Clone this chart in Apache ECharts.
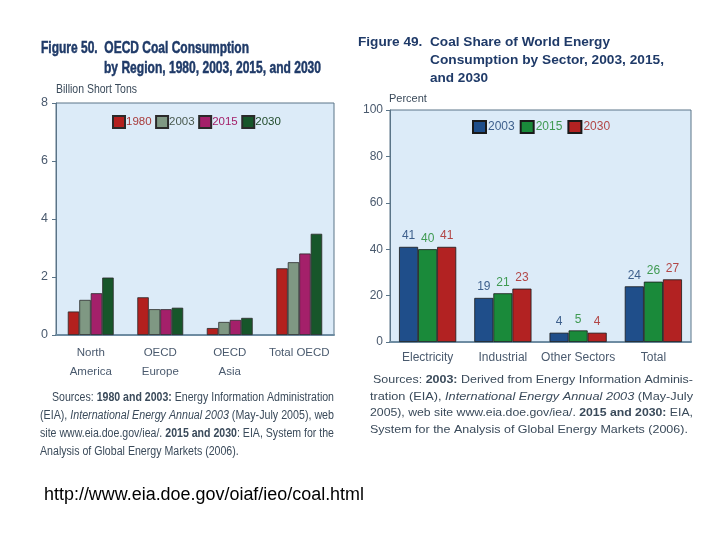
<!DOCTYPE html>
<html>
<head>
<meta charset="utf-8">
<script src="https://cdn.jsdelivr.net/npm/echarts@6/dist/echarts.min.js"></script>
<style>html,body{margin:0;padding:0;background:#fff;}#c{width:720px;height:540px;}</style>
</head>
<body>
<div id="c"></div>
<script>
// ---- Left chart data (Figure 50) ----
const leftCategories = ['North\nAmerica', 'OECD\nEurope', 'OECD\nAsia', 'Total OECD'];
const leftYears = ['1980', '2003', '2015', '2030'];
const left1980 = [0.81, 1.30, 0.24, 2.30];
const left2003 = [1.21, 0.89, 0.45, 2.51];
const left2015 = [1.44, 0.89, 0.52, 2.81];
const left2030 = [1.98, 0.94, 0.59, 3.49];
const leftTicks = { min: 0, max: 8, interval: 2 };

// ---- Right chart data (Figure 49) ----
const rightCategories = ['Electricity', 'Industrial', 'Other Sectors', 'Total'];
const rightYears = ['2003', '2015', '2030'];
const right2003 = [41, 19, 4, 24];
const right2015 = [40, 21, 5, 26];
const right2030 = [41, 23, 4, 27];
const rightTicks = { min: 0, max: 100, interval: 20 };

const SANS = '"Liberation Sans",Arial,sans-serif';

const leftColors = ['#b3201e', '#7f9883', '#a4206a', '#17562a'];
const leftTextColors = ['#a83a3a', '#4a5a50', '#a4206a', '#1f4a2a'];
const rightColors = ['#1f4e8a', '#1a8a3a', '#b22222'];
const rightLabelColors = ['#3d5f8c', '#3f9a52', '#b24646'];

const leftValues = [left1980, left2003, left2015, left2030];
const rightValues = [right2003, right2015, right2030];

const series = [];
leftYears.forEach((y, i) => {
  series.push({
    name: 'L' + y, type: 'bar', xAxisIndex: 0, yAxisIndex: 0,
    data: leftValues[i], barGap: '0%', barCategoryGap: '34%',
    itemStyle: { color: leftColors[i], borderColor: '#2a2a2a', borderWidth: 0.8 }
  });
});
rightYears.forEach((y, i) => {
  series.push({
    name: 'R' + y, type: 'bar', xAxisIndex: 1, yAxisIndex: 1,
    data: rightValues[i], barGap: '0%', barCategoryGap: '24%',
    itemStyle: { color: rightColors[i], borderColor: '#1a1a1a', borderWidth: 0.8 },
    label: { show: true, position: 'top', distance: 5, color: rightLabelColors[i], fontSize: 12, fontFamily: SANS }
  });
});

// text measuring helper to fit condensed/justified text widths
const mctx = document.createElement('canvas').getContext('2d');
function fontFor(st, size) {
  return (st === 'b' ? 'bold ' : st === 'i' ? 'italic ' : '') + size + 'px ' + SANS;
}
function measureRich(t, size) {
  let w = 0; const re = /\{(\w)\|([^}]*)\}/g; let m;
  while ((m = re.exec(t))) { mctx.font = fontFor(m[1], size); w += mctx.measureText(m[2]).width; }
  return w;
}
function fittedText(x, y, text, size, weight, color, targetW, stroke) {
  const font = (weight ? weight + ' ' : '') + size + 'px ' + SANS;
  mctx.font = font;
  const s = targetW ? targetW / mctx.measureText(text).width : 1;
  const st = { text: text, font: font, fill: color, verticalAlign: 'middle' };
  if (stroke) { st.stroke = color; st.lineWidth = stroke; }
  return { type: 'text', x: x, y: y, scaleX: s, style: st };
}
function richBlock(lines, size, color, boldColor) {
  // lines: [x, y, text, targetWidth or null]
  const scales = lines.map(l => l[3] ? l[3] / measureRich(l[2], size) : null);
  const known = scales.filter(s => s);
  const avg = known.reduce((a, b) => a + b, 0) / known.length;
  return lines.map((l, k) => ({
    type: 'text', x: l[0], y: l[1], scaleX: scales[k] || avg,
    style: {
      text: l[2], fill: color, font: size + 'px ' + SANS, verticalAlign: 'middle',
      rich: {
        n: { fontSize: size, fontFamily: SANS, color: color },
        b: { fontSize: size, fontFamily: SANS, fontWeight: 'bold', color: boldColor },
        i: { fontSize: size, fontFamily: SANS, fontStyle: 'italic', color: color }
      }
    }
  }));
}

const titleColor = '#1f3a68';
const graphics = [
  fittedText(41, 48, 'Figure 50.  OECD Coal Consumption', 17, 'bold', titleColor, 208, 0.5),
  fittedText(104, 68, 'by Region, 1980, 2003, 2015, and 2030', 17, 'bold', titleColor, 217, 0.5),
  fittedText(56, 90, 'Billion Short Tons', 12.5, '', '#3a4a5a', 81),
  fittedText(358, 42, 'Figure 49.  Coal Share of World Energy', 13, 'bold', titleColor, 252),
  fittedText(430, 60, 'Consumption by Sector, 2003, 2015,', 13, 'bold', titleColor, 234),
  fittedText(430, 78, 'and 2030', 13, 'bold', titleColor, 58),
  fittedText(389, 99, 'Percent', 11, '', '#3a4a5a', null),
  fittedText(44, 495, 'http://www.eia.doe.gov/oiaf/ieo/coal.html', 18, '', '#000', 320)
].concat(
  richBlock([
    [52, 398, '{n|Sources: }{b|1980 and 2003:}{n| Energy Information Administration}', 282],
    [40, 416, '{n|(EIA), }{i|International Energy Annual 2003}{n| (May-July 2005), web}', 294],
    [40, 434, '{n|site www.eia.doe.gov/iea/. }{b|2015 and 2030}{n|: EIA, System for the}', 294],
    [40, 452, '{n|Analysis of Global Energy Markets (2006).}', null]
  ], 12.5, '#3a4a5a', '#2a3646'),
  richBlock([
    [373, 380, '{n|Sources: }{b|2003:}{n| Derived from Energy Information Adminis-}', 320],
    [370, 397, '{n|tration (EIA), }{i|International Energy Annual 2003}{n| (May-July}', 323],
    [370, 413, '{n|2005), web site www.eia.doe.gov/iea/. }{b|2015 and 2030:}{n| EIA,}', 323],
    [370, 430, '{n|System for the Analysis of Global Energy Markets (2006).}', null]
  ], 11.5, '#3a4a5a', '#2a3646')
);

const axisColor = '#5a7488';
const labelColor = '#4a5a6e';

const option = {
  animation: false,
  backgroundColor: '#ffffff',
  grid: [
    { left: 56, top: 103, width: 278, height: 232, show: true, backgroundColor: '#dcebf8', borderColor: axisColor, borderWidth: 1 },
    { left: 390, top: 110, width: 301, height: 232, show: true, backgroundColor: '#dcebf8', borderColor: axisColor, borderWidth: 1 }
  ],
  legend: [
    {
      left: 112, top: 115, padding: 0, itemWidth: 12, itemHeight: 12, itemGap: 3.5, icon: 'rect',
      data: leftYears.map((y, i) => ({ name: 'L' + y, textStyle: { color: leftTextColors[i] } })),
      formatter: n => n.slice(1),
      textStyle: { fontSize: 11.5, fontFamily: SANS, padding: [0, 0, 0, -4] }
    },
    {
      left: 472, top: 120, padding: 0, itemWidth: 13, itemHeight: 12, itemGap: 5, icon: 'rect',
      data: rightYears.map((y, i) => ({ name: 'R' + y, textStyle: { color: rightLabelColors[i] } })),
      formatter: n => n.slice(1),
      textStyle: { fontSize: 12, fontFamily: SANS, padding: [0, 0, 0, -3] }
    }
  ],
  xAxis: [
    {
      gridIndex: 0, type: 'category', data: leftCategories,
      axisLine: { lineStyle: { color: '#6e8ca2', width: 2 } }, axisTick: { show: false },
      axisLabel: { interval: 0, color: labelColor, fontSize: 11.5, fontFamily: SANS, lineHeight: 19, margin: 8 }
    },
    {
      gridIndex: 1, type: 'category', data: rightCategories,
      axisLine: { lineStyle: { color: '#6e8ca2', width: 2 } }, axisTick: { show: false },
      axisLabel: { interval: 0, color: labelColor, fontSize: 12, fontFamily: SANS, margin: 10 }
    }
  ],
  yAxis: [
    {
      gridIndex: 0, type: 'value', min: leftTicks.min, max: leftTicks.max, interval: leftTicks.interval,
      axisLine: { show: true, lineStyle: { color: axisColor } },
      axisTick: { show: true, length: 4, lineStyle: { color: axisColor } },
      axisLabel: { color: labelColor, fontSize: 12.5, fontFamily: SANS, margin: 8 },
      splitLine: { show: false }
    },
    {
      gridIndex: 1, type: 'value', min: rightTicks.min, max: rightTicks.max, interval: rightTicks.interval,
      axisLine: { show: true, lineStyle: { color: axisColor } },
      axisTick: { show: true, length: 4, lineStyle: { color: axisColor } },
      axisLabel: { color: labelColor, fontSize: 12, fontFamily: SANS, margin: 7 },
      splitLine: { show: false }
    }
  ],
  graphic: graphics,
  series: series
};

const chart = echarts.init(document.getElementById('c'), null, { renderer: 'canvas' });
chart.setOption(option);
</script>
</body>
</html>
